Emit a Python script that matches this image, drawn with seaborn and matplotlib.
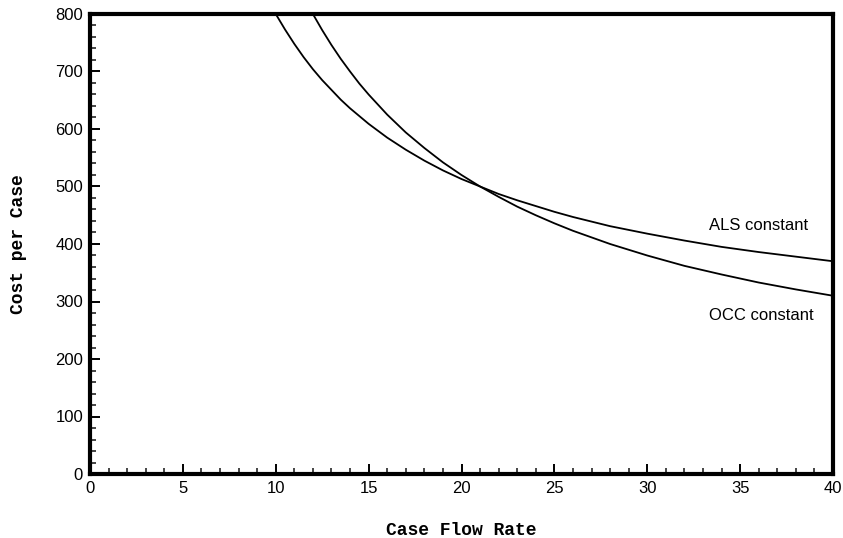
import matplotlib
matplotlib.use("Agg")
import matplotlib.pyplot as plt
import seaborn as sns
import pandas as pd
from matplotlib.ticker import MultipleLocator

# Values
als_x = [10, 10.5, 11, 11.5, 12, 12.5, 13, 13.5, 14, 15, 16, 17, 18, 19, 20, 21,
         22, 23, 24, 25, 26, 28, 30, 32, 34, 36, 38, 40]
als_y = [800, 773, 748, 725, 704, 685, 668, 651, 636, 609, 585, 564, 545, 528, 513, 500,
         487, 476, 466, 456, 447, 431, 418, 406, 395, 386, 378, 370]
occ_x = [12, 12.5, 13, 13.5, 14, 14.5, 15, 16, 17, 18, 19, 20, 21, 22, 23, 24,
         25, 26, 28, 30, 32, 34, 36, 38, 40]
occ_y = [800, 772, 746, 722, 700, 679, 660, 625, 594, 567, 542, 520, 500, 482, 465, 450,
         436, 423, 400, 380, 362, 347, 333, 321, 310]
series_labels = ["ALS constant", "OCC constant"]
x_ticks = [0, 5, 10, 15, 20, 25, 30, 35, 40]
y_ticks = [0, 100, 200, 300, 400, 500, 600, 700, 800]

df = pd.concat([
    pd.DataFrame({"x": als_x, "y": als_y, "series": series_labels[0]}),
    pd.DataFrame({"x": occ_x, "y": occ_y, "series": series_labels[1]}),
])

sns.set_style("white")
plt.rcParams["font.family"] = ["Liberation Sans", "DejaVu Sans"]
plt.rcParams["text.color"] = "black"
plt.rcParams["axes.labelcolor"] = "black"

fig = plt.figure(figsize=(8.43, 5.38), dpi=100)
ax = fig.add_axes([90/843, 1 - 474/538, (833-90)/843, (474-14)/538])

sns.lineplot(data=df, x="x", y="y", hue="series", palette=["black", "black"],
             linewidth=1.3, legend=False, ax=ax, estimator=None, sort=True)

ax.set_xlim(0, 40)
ax.set_ylim(0, 800)
ax.set_xticks(x_ticks)
ax.set_yticks(y_ticks)
ax.xaxis.set_minor_locator(MultipleLocator(1))
ax.yaxis.set_minor_locator(MultipleLocator(20))
ax.tick_params(axis="both", which="major", direction="in", length=7, width=1.4,
               labelsize=12, colors="black", pad=5)
ax.tick_params(axis="both", which="minor", direction="in", length=4, width=1.2)
ax.tick_params(bottom=True, left=True, which="both")
for s in ax.spines.values():
    s.set_linewidth(3)
    s.set_color("black")

ax.set_xlabel("Case Flow Rate", family="Liberation Mono", fontweight="bold",
              fontsize=13, color="black")
ax.set_ylabel("Cost per Case", family="Liberation Mono", fontweight="bold",
              fontsize=13, labelpad=20, color="black")
ax.xaxis.set_label_coords(0.5, -0.105)

ax.text(33.3, 433, series_labels[0], fontsize=12, va="center", ha="left", color="black")
ax.text(33.3, 276, series_labels[1], fontsize=12, va="center", ha="left", color="black")

fig.savefig("out.png", dpi=100)
